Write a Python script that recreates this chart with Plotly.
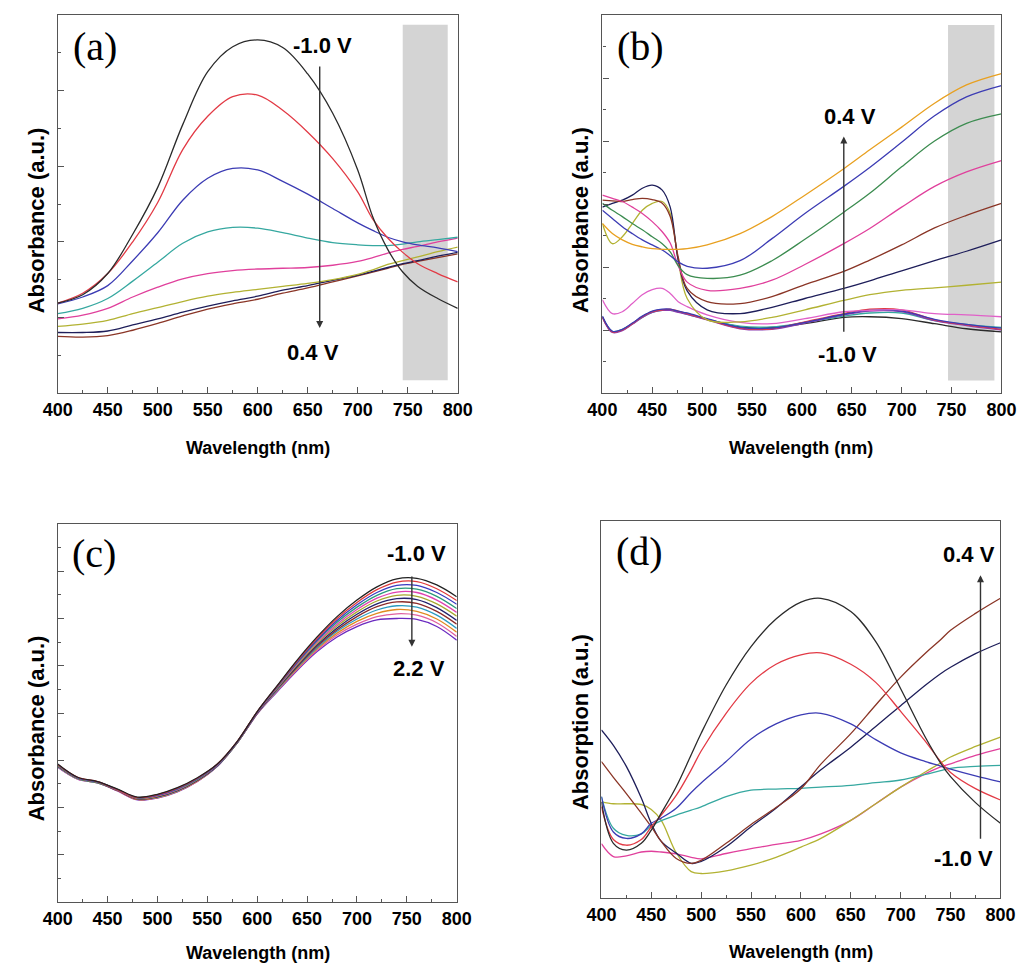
import plotly.graph_objects as go

# ---------------- Panel (a) data ----------------
A_X = [400, 425, 450, 475, 500, 525, 550, 575, 600, 625, 650, 675, 700, 715, 730, 745, 760, 780, 800]
A_BLACK = [1.19, 1.30, 1.58, 2.10, 2.72, 3.55, 4.25, 4.58, 4.67, 4.57, 4.22, 3.70, 2.95, 2.33, 1.90, 1.60, 1.41, 1.25, 1.12]
A_RED = [1.19, 1.32, 1.58, 2.00, 2.52, 3.22, 3.66, 3.92, 3.94, 3.74, 3.45, 3.10, 2.66, 2.30, 2.05, 1.86, 1.71, 1.58, 1.47]
A_BLUE = [1.18, 1.27, 1.42, 1.75, 2.12, 2.55, 2.84, 2.97, 2.95, 2.80, 2.63, 2.44, 2.25, 2.15, 2.06, 2.00, 1.96, 1.92, 1.87]
A_CYAN = [1.05, 1.12, 1.25, 1.48, 1.73, 1.98, 2.13, 2.19, 2.18, 2.12, 2.05, 1.99, 1.96, 1.95, 1.95, 1.97, 2.00, 2.03, 2.06]
A_MAG = [0.98, 1.03, 1.12, 1.27, 1.40, 1.51, 1.58, 1.62, 1.64, 1.65, 1.66, 1.69, 1.74, 1.79, 1.85, 1.90, 1.94, 2.00, 2.05]
A_OLIVE = [0.88, 0.91, 0.96, 1.05, 1.13, 1.21, 1.28, 1.33, 1.37, 1.41, 1.45, 1.50, 1.57, 1.63, 1.70, 1.75, 1.80, 1.87, 1.93]
A_NAVY = [0.80, 0.80, 0.82, 0.90, 0.98, 1.07, 1.15, 1.22, 1.28, 1.36, 1.42, 1.49, 1.56, 1.61, 1.66, 1.71, 1.75, 1.81, 1.86]
A_BROWN = [0.75, 0.74, 0.76, 0.83, 0.92, 1.02, 1.11, 1.18, 1.24, 1.32, 1.39, 1.47, 1.55, 1.60, 1.65, 1.70, 1.74, 1.79, 1.84]

# ---------------- Panel (b) data ----------------
B_X = [400, 410, 420, 430, 440, 450, 460, 468, 476, 485, 505, 538, 570, 603, 642, 668, 700, 733, 765, 800]
B_ORANGE = [2.69, 2.53, 2.43, 2.36, 2.32, 2.29, 2.28, 2.28, 2.28, 2.29, 2.35, 2.53, 2.80, 3.14, 3.56, 3.86, 4.22, 4.60, 4.89, 5.07]
B_BLUE = [2.90, 2.77, 2.64, 2.53, 2.43, 2.35, 2.27, 2.18, 2.08, 2.01, 1.98, 2.10, 2.45, 2.85, 3.28, 3.58, 3.98, 4.40, 4.70, 4.88]
B_GREEN = [3.01, 2.90, 2.80, 2.69, 2.59, 2.48, 2.37, 2.24, 2.02, 1.88, 1.82, 1.87, 2.10, 2.44, 2.87, 3.17, 3.59, 4.00, 4.28, 4.43]
B_PINK = [3.14, 3.09, 3.04, 2.95, 2.85, 2.72, 2.56, 2.38, 2.02, 1.76, 1.63, 1.66, 1.79, 2.04, 2.37, 2.61, 2.95, 3.28, 3.51, 3.69]
B_BROWN = [3.06, 3.05, 3.04, 3.07, 3.09, 3.07, 3.01, 2.80, 2.16, 1.66, 1.45, 1.42, 1.53, 1.72, 1.93, 2.11, 2.35, 2.62, 2.82, 3.01]
B_NAVY = [2.95, 3.01, 3.06, 3.14, 3.25, 3.30, 3.22, 2.95, 2.11, 1.62, 1.32, 1.26, 1.36, 1.50, 1.66, 1.78, 1.94, 2.10, 2.25, 2.43]
B_OLIVE = [2.69, 2.37, 2.48, 2.69, 2.90, 3.01, 3.04, 2.85, 2.11, 1.50, 1.16, 1.13, 1.20, 1.32, 1.47, 1.56, 1.63, 1.67, 1.71, 1.76]
B_LPINK = [1.48, 1.26, 1.29, 1.42, 1.56, 1.64, 1.66, 1.58, 1.45, 1.37, 1.24, 1.12, 1.10, 1.18, 1.29, 1.31, 1.32, 1.26, 1.24, 1.21]
B_BLACK = [1.21, 0.97, 1.00, 1.10, 1.21, 1.29, 1.32, 1.32, 1.29, 1.26, 1.17, 1.05, 1.04, 1.10, 1.20, 1.21, 1.18, 1.10, 1.02, 0.97]
B_BLUE2 = [1.22, 0.98, 1.01, 1.11, 1.22, 1.30, 1.33, 1.33, 1.30, 1.27, 1.18, 1.04, 1.03, 1.12, 1.25, 1.31, 1.30, 1.17, 1.09, 1.03]
B_RED2 = [1.20, 0.97, 1.00, 1.10, 1.21, 1.29, 1.32, 1.33, 1.30, 1.26, 1.17, 1.03, 1.02, 1.13, 1.26, 1.33, 1.32, 1.16, 1.08, 1.01]
B_TEAL = [1.21, 0.98, 1.01, 1.10, 1.20, 1.28, 1.31, 1.31, 1.29, 1.25, 1.17, 1.06, 1.05, 1.12, 1.22, 1.27, 1.27, 1.15, 1.09, 1.04]
B_PURPLE = [1.20, 0.96, 0.99, 1.09, 1.20, 1.28, 1.31, 1.31, 1.28, 1.25, 1.16, 1.02, 1.01, 1.11, 1.24, 1.30, 1.29, 1.15, 1.07, 1.00]

# ---------------- Panel (c) data ----------------
C_X = [400, 420, 440, 460, 480, 500, 520, 540, 560, 580, 600, 620, 640, 660, 680, 700, 720, 740, 760, 780, 800]
C_CURVES = [
    [2.92, 2.64, 2.55, 2.39, 2.22, 2.28, 2.42, 2.63, 2.92, 3.40, 4.03, 4.58, 5.12, 5.61, 6.04, 6.39, 6.67, 6.84, 6.85, 6.71, 6.46],
    [2.91, 2.64, 2.55, 2.38, 2.21, 2.27, 2.41, 2.62, 2.92, 3.40, 4.03, 4.57, 5.10, 5.58, 6.00, 6.34, 6.61, 6.77, 6.78, 6.63, 6.38],
    [2.91, 2.63, 2.54, 2.38, 2.21, 2.26, 2.40, 2.61, 2.91, 3.39, 4.02, 4.56, 5.08, 5.55, 5.96, 6.29, 6.55, 6.70, 6.70, 6.55, 6.30],
    [2.90, 2.63, 2.54, 2.38, 2.20, 2.26, 2.39, 2.60, 2.91, 3.39, 4.02, 4.55, 5.06, 5.53, 5.92, 6.24, 6.49, 6.63, 6.62, 6.47, 6.21],
    [2.90, 2.63, 2.54, 2.37, 2.20, 2.25, 2.38, 2.60, 2.90, 3.39, 4.01, 4.54, 5.04, 5.50, 5.88, 6.19, 6.43, 6.56, 6.55, 6.39, 6.13],
    [2.89, 2.62, 2.53, 2.37, 2.19, 2.24, 2.37, 2.59, 2.90, 3.38, 4.01, 4.53, 5.02, 5.47, 5.84, 6.14, 6.37, 6.49, 6.47, 6.31, 6.05],
    [2.88, 2.62, 2.53, 2.37, 2.19, 2.23, 2.36, 2.58, 2.89, 3.38, 4.00, 4.52, 5.00, 5.44, 5.80, 6.09, 6.31, 6.42, 6.40, 6.23, 5.96],
    [2.88, 2.62, 2.53, 2.36, 2.18, 2.23, 2.36, 2.57, 2.89, 3.38, 4.00, 4.51, 4.98, 5.41, 5.76, 6.04, 6.25, 6.35, 6.32, 6.15, 5.88],
    [2.87, 2.61, 2.52, 2.36, 2.18, 2.22, 2.35, 2.57, 2.88, 3.37, 3.99, 4.49, 4.96, 5.38, 5.73, 5.99, 6.18, 6.27, 6.24, 6.07, 5.79],
    [2.87, 2.61, 2.52, 2.36, 2.17, 2.21, 2.34, 2.56, 2.88, 3.37, 3.99, 4.48, 4.94, 5.36, 5.69, 5.94, 6.11, 6.19, 6.15, 5.99, 5.71],
    [2.86, 2.60, 2.52, 2.35, 2.17, 2.21, 2.34, 2.55, 2.87, 3.37, 3.98, 4.47, 4.92, 5.33, 5.65, 5.88, 6.04, 6.10, 6.07, 5.91, 5.62],
    [2.85, 2.60, 2.52, 2.35, 2.16, 2.20, 2.33, 2.55, 2.87, 3.37, 3.98, 4.45, 4.90, 5.30, 5.61, 5.83, 5.97, 6.00, 5.98, 5.83, 5.54],
]
C_COLORS = ["#222222", "#e03a3a", "#3a3ac0", "#2a9a7a", "#e040b0", "#a8a830", "#23236e",
            "#8b2a2a", "#2a9ac0", "#e08a20", "#e060a0", "#6a2ac0"]

# ---------------- Panel (d) data ----------------
D_X = [400, 412, 425, 440, 450, 460, 475, 490, 500, 525, 550, 575, 600, 620, 650, 675, 700, 725, 740, 750, 775, 800]
D_BLACK = [2.55, 1.45, 1.27, 1.45, 1.80, 2.25, 2.95, 3.80, 4.37, 5.65, 6.67, 7.40, 7.85, 7.95, 7.60, 6.80, 5.55, 4.25, 3.58, 3.22, 2.53, 1.98]
D_RED = [2.42, 1.55, 1.40, 1.55, 1.89, 2.20, 2.72, 3.40, 3.90, 4.90, 5.70, 6.20, 6.45, 6.50, 6.20, 5.72, 4.95, 4.15, 3.62, 3.33, 2.90, 2.60]
D_BLUE = [2.69, 1.75, 1.58, 1.70, 1.98, 2.12, 2.38, 2.80, 3.05, 3.62, 4.22, 4.62, 4.86, 4.90, 4.62, 4.20, 3.85, 3.62, 3.50, 3.42, 3.24, 3.08]
D_NAVY = [4.46, 4.05, 3.49, 2.65, 1.98, 1.50, 1.19, 0.92, 0.97, 1.36, 1.89, 2.38, 2.95, 3.40, 4.00, 4.55, 5.10, 5.65, 5.95, 6.12, 6.48, 6.77]
D_BROWN = [3.62, 3.20, 2.77, 2.25, 1.89, 1.50, 1.05, 0.92, 1.00, 1.45, 1.95, 2.40, 2.90, 3.55, 4.36, 5.12, 5.86, 6.50, 6.85, 7.10, 7.55, 7.95]
D_OLIVE = [2.55, 2.50, 2.50, 2.48, 2.35, 2.06, 1.20, 0.70, 0.65, 0.72, 0.87, 1.08, 1.35, 1.58, 2.06, 2.50, 2.94, 3.35, 3.58, 3.74, 4.02, 4.27]
D_MAG = [1.44, 1.10, 1.12, 1.22, 1.24, 1.22, 1.17, 1.08, 1.04, 1.18, 1.31, 1.42, 1.53, 1.70, 2.06, 2.50, 2.94, 3.30, 3.48, 3.56, 3.78, 3.96]
D_TEAL = [2.69, 1.85, 1.66, 1.70, 1.92, 2.05, 2.20, 2.33, 2.42, 2.69, 2.86, 2.89, 2.91, 2.94, 2.99, 3.06, 3.13, 3.28, 3.38, 3.44, 3.49, 3.52]

WL_TICKS = [400, 450, 500, 550, 600, 650, 700, 750, 800]

BLACK = "#2b2b2b"
RED = "#e23a45"
BLUE = "#3c3cb4"
CYAN = "#36a8a0"
MAG = "#e0409c"
OLIVE = "#b2b232"
NAVY = "#1e1e5a"
BROWN = "#8a3526"
ORANGE = "#e8a020"
GREEN = "#3c8c50"

fig = go.Figure()


def add(xa, ya, xs, ys, color, smooth=1.0):
    fig.add_trace(go.Scatter(x=xs, y=ys, mode="lines", xaxis=xa, yaxis=ya,
                             line=dict(color=color, width=1.3, shape="spline", smoothing=smooth),
                             showlegend=False, hoverinfo="skip"))


# panel a
for ys, c in [(A_BROWN, BROWN), (A_NAVY, NAVY), (A_OLIVE, OLIVE), (A_MAG, MAG),
              (A_CYAN, CYAN), (A_BLUE, BLUE), (A_RED, RED), (A_BLACK, BLACK)]:
    add("x", "y", A_X, ys, c)

# panel b
for ys, c in [(B_BLACK, BLACK), (B_TEAL, CYAN), (B_PURPLE, "#8a3ab0"), (B_RED2, RED), (B_BLUE2, BLUE),
              (B_LPINK, "#e060c8"), (B_OLIVE, OLIVE), (B_NAVY, NAVY), (B_BROWN, BROWN),
              (B_PINK, MAG), (B_GREEN, GREEN), (B_BLUE, BLUE), (B_ORANGE, ORANGE)]:
    add("x2", "y2", B_X, ys, c, 1.0)

# panel c
for ys, c in reversed(list(zip(C_CURVES, C_COLORS))):
    add("x3", "y3", C_X, ys, c)

# panel d
for ys, c in [(D_MAG, MAG), (D_OLIVE, OLIVE), (D_TEAL, CYAN), (D_NAVY, NAVY), (D_BROWN, BROWN),
              (D_BLUE, BLUE), (D_RED, RED), (D_BLACK, BLACK)]:
    add("x4", "y4", D_X, ys, c, 1.0)

TICKFONT = dict(family="Liberation Sans Narrow, Arial Narrow, Liberation Sans, Arial", size=18,
                color="black", weight="bold")
AXCOL = "#555555"


def xax(domain, anchor):
    return dict(domain=domain, anchor=anchor, range=[400, 800], tickvals=WL_TICKS,
                ticks="inside", ticklen=6, tickwidth=1, tickcolor=AXCOL,
                showline=True, linecolor=AXCOL, linewidth=1.3, mirror=True,
                showgrid=False, zeroline=False, tickfont=TICKFONT,
                minor=dict(ticks="inside", ticklen=3, tickcolor=AXCOL, dtick=25, tick0=400, showgrid=False))


def yax(domain, anchor, top, ticks=True):
    return dict(domain=domain, anchor=anchor, range=[0, top], dtick=1, tick0=0,
                ticks="inside" if ticks else "", ticklen=6, tickwidth=1, tickcolor=AXCOL,
                showline=True, linecolor=AXCOL, linewidth=1.3, mirror=True,
                showgrid=False, zeroline=False, showticklabels=False,
                minor=dict(ticks="inside" if ticks else "", ticklen=3, tickcolor=AXCOL,
                           dtick=0.5, tick0=0, showgrid=False))


W, H = 1030, 965
def px(x0, x1):
    return [x0 / W, x1 / W]
def py(y0, y1):
    return [1 - y1 / H, 1 - y0 / H]

layout = dict(
    width=W, height=H, margin=dict(l=0, r=0, t=0, b=0),
    paper_bgcolor="white", plot_bgcolor="white", showlegend=False,
    xaxis=xax(px(44, 456), "y"), yaxis=yax(py(15, 393), "x", 5),
    xaxis2=xax(px(605, 1016), "y2"), yaxis2=yax(py(15, 393), "x2", 6),
    xaxis3=xax(px(44, 455), "y3"), yaxis3=yax(py(524, 902), "x3", 8),
    xaxis4=xax(px(604, 1015), "y4"), yaxis4=yax(py(521, 898), "x4", 10, ticks=False),
)
fig.update_layout(**layout)

# gray bands
fig.add_shape(type="rect", xref="x", yref="y", x0=745, x1=790, y0=0.17, y1=4.87,
              fillcolor="#d4d4d4", line=dict(width=0), layer="below")
fig.add_shape(type="rect", xref="x2", yref="y2", x0=746.5, x1=793, y0=0.2, y1=5.84,
              fillcolor="#d4d4d4", line=dict(width=0), layer="below")

ann = []
SERIF = dict(family="Liberation Serif, Times New Roman, serif", size=40, color="black")
VFONT = dict(family="Liberation Sans, Arial", size=22, color="black", weight="bold")

for xr, yr, x, y, t in [("x", "y", 437, 4.58, "(a)"), ("x2", "y2", 438, 5.50, "(b)"),
                        ("x3", "y3", 436, 7.38, "(c)"), ("x4", "y4", 438, 9.2, "(d)")]:
    ann.append(dict(xref=xr, yref=yr, x=x, y=y, text=t, showarrow=False, font=SERIF))

for xr, yr, x, y, t in [("x", "y", 665, 4.60, "-1.0 V"), ("x", "y", 655, 0.53, "0.4 V"),
                        ("x2", "y2", 648, 4.39, "0.4 V"), ("x2", "y2", 646, 0.61, "-1.0 V"),
                        ("x3", "y3", 760, 7.38, "-1.0 V"), ("x3", "y3", 762, 4.94, "2.2 V"),
                        ("x4", "y4", 768, 9.10, "0.4 V"), ("x4", "y4", 763, 1.04, "-1.0 V")]:
    ann.append(dict(xref=xr, yref=yr, x=x, y=y, text=t, showarrow=False, font=VFONT))

# arrows (head at x,y ; tail at ax,ay)
for xr, yr, x, y, ax, ay in [("x", "y", 662, 0.86, 662, 4.34),
                             ("x2", "y2", 642, 4.07, 642, 0.95),
                             ("x3", "y3", 755, 5.40, 755, 6.92),
                             ("x4", "y4", 780, 8.56, 780, 1.53)]:
    ann.append(dict(xref=xr, yref=yr, axref=xr, ayref=yr, x=x, y=y, ax=ax, ay=ay, text="",
                    showarrow=True, arrowhead=2, arrowsize=1.0, arrowwidth=1.4, arrowcolor="#333333"))

TFONT = dict(family="Liberation Sans Narrow, Arial Narrow, Liberation Sans, Arial", size=18,
             color="black", weight="bold")
for xc, yc in [(250, 448), (810, 448), (250, 953), (810, 952)]:
    ann.append(dict(xref="paper", yref="paper", x=xc / W, y=1 - yc / H, text="Wavelength (nm)",
                    showarrow=False, font=TFONT, xanchor="center", yanchor="middle"))

YFONT = dict(family="Liberation Sans, Arial", size=22, color="black", weight="bold")
for xc, yc, t in [(22, 220, "Absorbance (a.u.)"), (582, 220, "Absorbance (a.u.)"),
                  (22, 728, "Absorbance (a.u.)"), (582, 722, "Absorption (a.u.)")]:
    ann.append(dict(xref="paper", yref="paper", x=xc / W, y=1 - yc / H, text=t, textangle=-90,
                    showarrow=False, font=YFONT, xanchor="center", yanchor="middle"))

fig.update_layout(annotations=ann)
fig.write_html("out.html")
